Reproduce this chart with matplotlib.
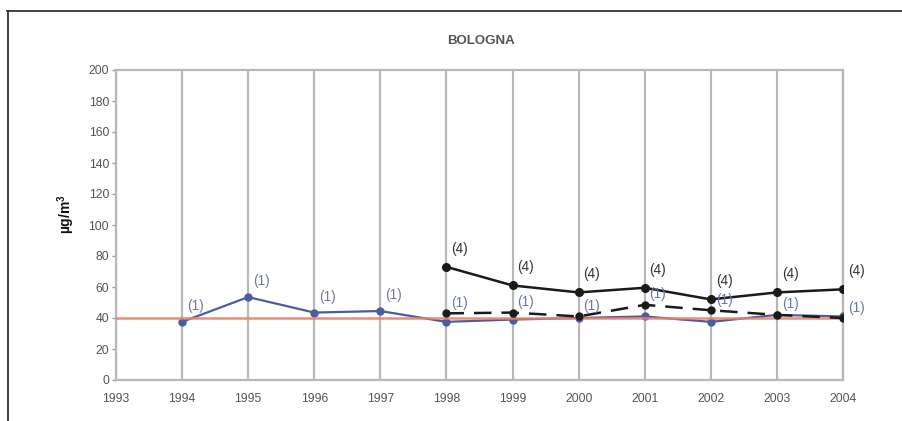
import matplotlib
matplotlib.use("Agg")
import matplotlib.pyplot as plt
from matplotlib.transforms import Bbox, TransformedBbox
from matplotlib.lines import Line2D

plt.rcParams["font.family"] = ["Liberation Sans", "DejaVu Sans"]

# Annual means, Bologna (µg/m³)
years = [1993, 1994, 1995, 1996, 1997, 1998, 1999, 2000, 2001, 2002, 2003, 2004]
blue_years = [1994, 1995, 1996, 1997, 1998, 1999, 2000, 2001, 2002, 2003, 2004]
blue_vals = [37.5, 53.5, 43.5, 44.5, 37.5, 39, 40, 41, 37.5, 42, 41]
blue_labels = ["(1)", "(1)", "(1)", "(1)"]          # 1994-1997
black_years = [1998, 1999, 2000, 2001, 2002, 2003, 2004]
black_vals = [73, 61, 56.5, 59.5, 52, 56.5, 58.5]
black_labels = ["(4)"] * 7
dash_years = [1998, 1999, 2000, 2001, 2002, 2003, 2004]
dash_vals = [43, 43.5, 41, 48.5, 45, 42, 40]
dash_labels = ["(1)"] * 7
limit_value = 40
yticks = [0, 20, 40, 60, 80, 100, 120, 140, 160, 180, 200]

W, H = 903, 421
fig = plt.figure(figsize=(W / 100, H / 100), dpi=100)
fig.patch.set_facecolor("white")

# outer frame (top and left edges)
fig.add_artist(Line2D([7 / W, 1.0], [1 - 10.5 / H, 1 - 10.5 / H], transform=fig.transFigure,
                      color="#333333", lw=1.3))
fig.add_artist(Line2D([7.5 / W, 7.5 / W], [0, 1 - 10.5 / H], transform=fig.transFigure,
                      color="#333333", lw=1.3))

ax = fig.add_axes([116 / W, 1 - 380 / H, (843 - 116) / W, (380 - 70) / H])
ax.set_xlim(1993, 2004)
ax.set_ylim(0, 200)

grid_c = "#b8b8b8"
for s in ax.spines.values():
    s.set_color(grid_c)
    s.set_linewidth(1.6)
ax.set_xticks(years)
ax.set_xticklabels([str(y) for y in years])
ax.set_yticks(yticks)
ax.tick_params(axis="y", direction="out", length=3, width=1, color="#999999",
               labelsize=8.8, labelcolor="#555555", pad=2)
ax.tick_params(axis="x", direction="out", length=0, labelsize=8.8,
               labelcolor="#555555", pad=9)
ax.xaxis.grid(True, color=grid_c, lw=1.6)
ax.set_axisbelow(True)

blue_c = "#4b5d9c"
ax.plot(blue_years, blue_vals, color=blue_c, lw=1.6, marker="o", ms=5,
        markeredgecolor=blue_c, zorder=3)
ax.axhline(limit_value, color="#e8806f", lw=1.8, alpha=0.9, zorder=4)
ax.plot(dash_years, dash_vals, color="#1a1a1a", lw=1.8, dashes=(7, 4),
        marker="o", ms=5, zorder=5)
ax.plot(black_years, black_vals, color="#1a1a1a", lw=1.8, marker="o", ms=5.5,
        zorder=6)

clip = TransformedBbox(Bbox([[0, 0], [866 / W, 1]]), fig.transFigure)

def put_labels(xs, ys, labels, color, dy):
    for x, y, t in zip(xs, ys, labels):
        txt = ax.annotate(t, (x, y), xytext=(3.5, dy), textcoords="offset points",
                          fontsize=9.8, color=color, ha="left", va="bottom",
                          annotation_clip=False, zorder=7)
        txt.set_clip_on(True)
        txt.set_clip_box(clip)

put_labels(blue_years[:4], blue_vals[:4], blue_labels, "#6a78a8", 6.5)
put_labels(dash_years, dash_vals, dash_labels, "#6a78a8", 2.5)
put_labels(black_years, black_vals, black_labels, "#333333", 8)

fig.text(481 / W, 1 - 41 / H, "BOLOGNA", fontsize=9.5, fontweight="bold",
         color="#555555", ha="center", va="center")
fig.text(66 / W, 1 - 214 / H, "µg/m$^\\mathregular{3}$", fontsize=10, fontweight="bold",
         color="#111111", rotation=90, ha="center", va="center")

fig.savefig("out.png", dpi=100, facecolor="white")
